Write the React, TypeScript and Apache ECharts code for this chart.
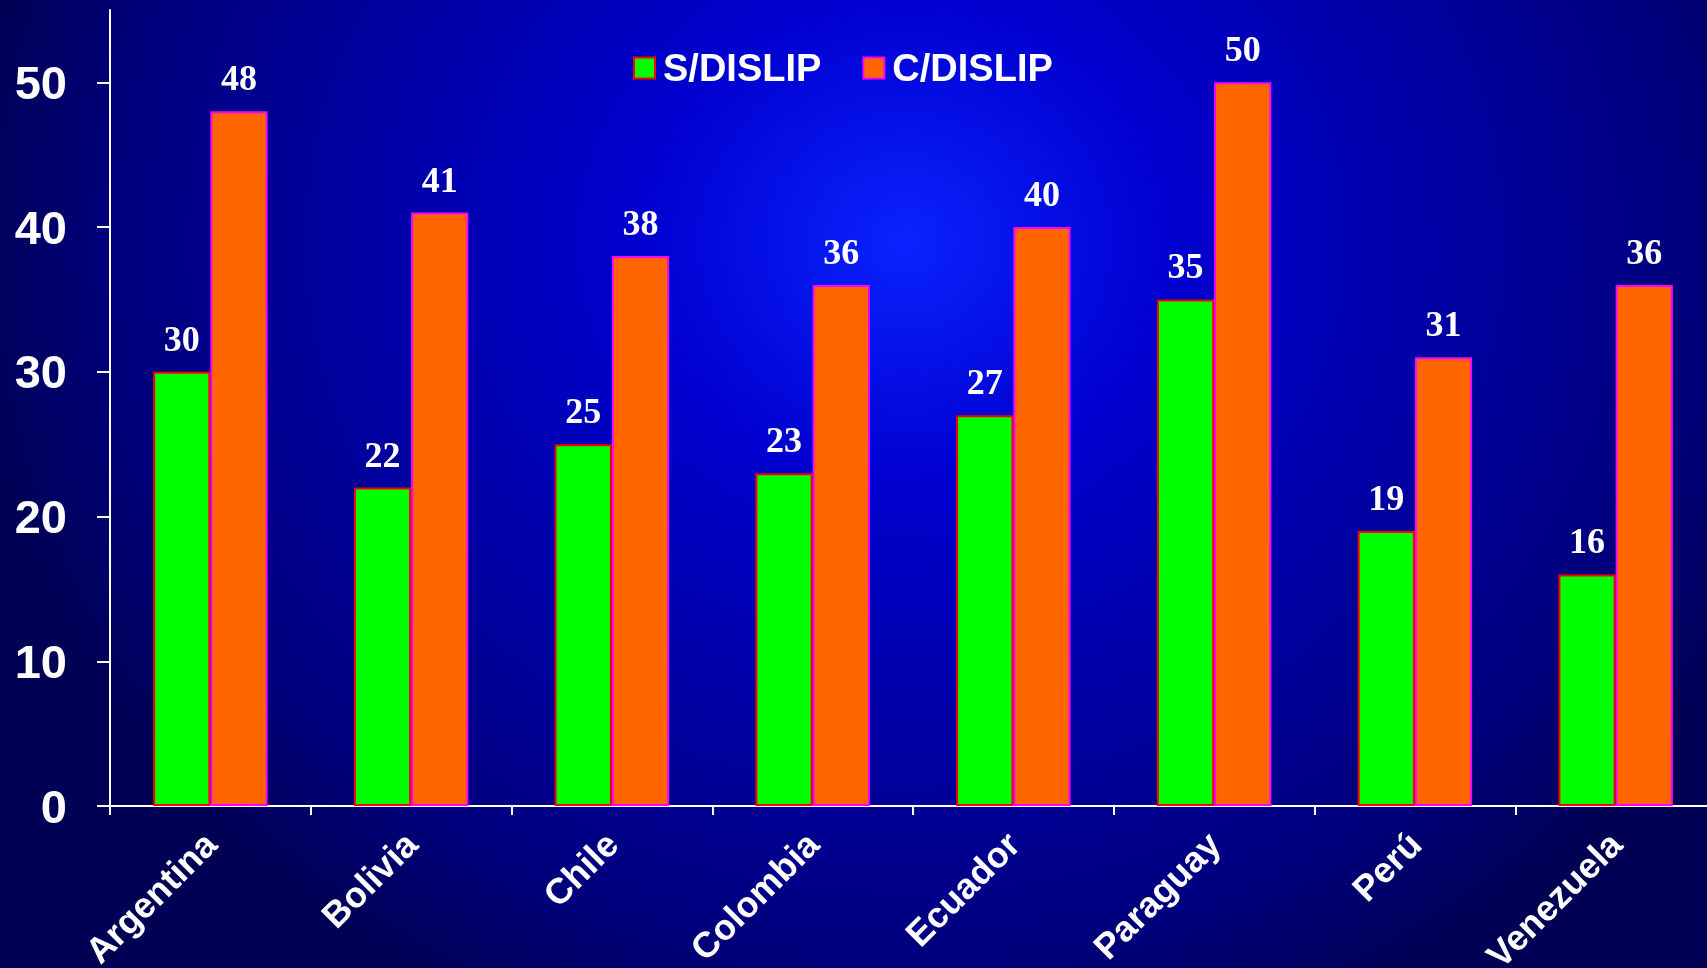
import React, { useEffect, useRef } from "react";
import * as echarts from "echarts";

const categories = ["Argentina", "Bolivia", "Chile", "Colombia", "Ecuador", "Paraguay", "Perú", "Venezuela"];
const sDislip = [30, 22, 25, 23, 27, 35, 19, 16];
const cDislip = [48, 41, 38, 36, 40, 50, 31, 36];
const yTicks = [0, 10, 20, 30, 40, 50];
const seriesNames = ["S/DISLIP", "C/DISLIP"];

const SANS = '"Liberation Sans", Arial, sans-serif';
const SERIF = '"Liberation Serif", "Times New Roman", serif';

export default function App() {
  const ref = useRef<HTMLDivElement>(null);

  useEffect(() => {
    if (!ref.current) return;
    const chart = echarts.init(ref.current, null, { renderer: "svg" });
    const labelStyle = {
      show: true,
      position: "top",
      distance: 15,
      color: "#ffffff",
      fontFamily: SERIF,
      fontWeight: "bold",
      fontSize: 36,
    };
    chart.setOption({
      animation: false,
      backgroundColor: "transparent",
      legend: {
        left: 628,
        top: 44,
        itemWidth: 21,
        itemHeight: 21,
        itemGap: 41,
        icon: "rect",
        textStyle: {
          color: "#ffffff",
          fontFamily: SANS,
          fontWeight: "bold",
          fontSize: 38,
          lineHeight: 38,
          padding: [0, 0, 0, 3],
        },
        data: [
          { name: seriesNames[0], itemStyle: { color: "#00ff00", borderColor: "#ff0000", borderWidth: 2 } },
          { name: seriesNames[1], itemStyle: { color: "#ff6600", borderColor: "#ff00ff", borderWidth: 2 } },
        ],
      },
      grid: {
        left: 110,
        top: 10,
        width: 1606,
        bottom: 162,
        containLabel: false,
        outerBoundsMode: "none",
      },
      xAxis: {
        type: "category",
        data: categories,
        axisLine: { show: true, lineStyle: { color: "#ffffff", width: 2 } },
        axisTick: { show: true, length: 9, lineStyle: { color: "#ffffff", width: 2 } },
        axisLabel: {
          rotate: 45,
          margin: 32,
          color: "#ffffff",
          fontFamily: SANS,
          fontWeight: "bold",
          fontSize: 36,
          interval: 0,
        },
        splitLine: { show: false },
      },
      yAxis: {
        type: "value",
        min: 0,
        max: 55,
        interval: 10,
        axisLine: { show: true, lineStyle: { color: "#ffffff", width: 2 } },
        axisTick: { show: true, length: 13, lineStyle: { color: "#ffffff", width: 2 }, customValues: yTicks },
        axisLabel: {
          margin: 43,
          color: "#ffffff",
          fontFamily: SANS,
          fontWeight: "bold",
          fontSize: 47,
          customValues: yTicks,
        },
        splitLine: { show: false },
      },
      series: [
        {
          name: seriesNames[0],
          type: "bar",
          data: sDislip,
          barWidth: "28.5%",
          barGap: "0%",
          itemStyle: { color: "#00ff00", borderColor: "#ff0000", borderWidth: 2 },
          label: labelStyle,
        },
        {
          name: seriesNames[1],
          type: "bar",
          data: cDislip,
          barWidth: "28.5%",
          barGap: "0%",
          itemStyle: { color: "#ff6600", borderColor: "#ff00ff", borderWidth: 2 },
          label: labelStyle,
        },
      ],
    });
    return () => chart.dispose();
  }, []);

  return (
    <div
      style={{
        position: "fixed",
        left: 0,
        top: 0,
        width: 1707,
        height: 968,
        background:
          "radial-gradient(ellipse 55% 88% at 53% 25%, #0a22ff 0%, #0000d0 28%, #00007a 85%, #000055 100%)",
      }}
    >
      <div ref={ref} style={{ width: 1707, height: 968 }} />
    </div>
  );
}
